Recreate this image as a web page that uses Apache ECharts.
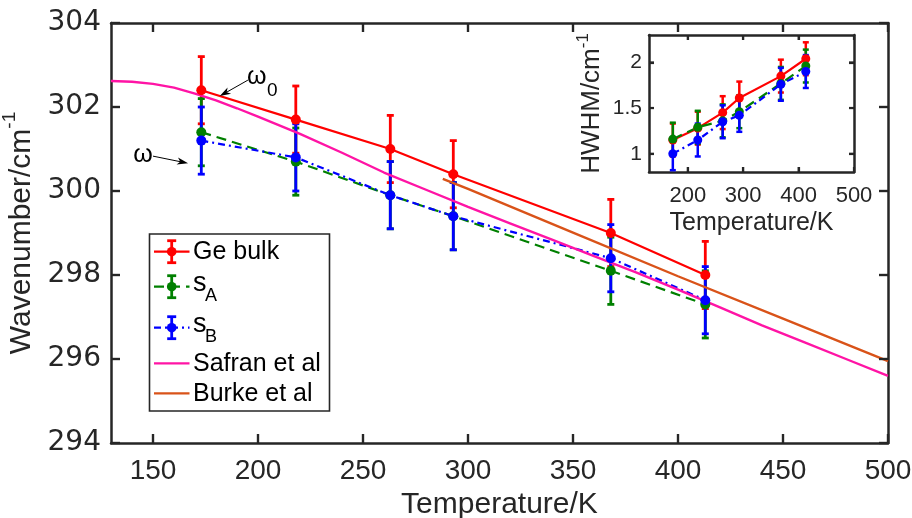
<!DOCTYPE html>
<html><head><meta charset="utf-8">
<script src="https://cdn.jsdelivr.net/npm/echarts@6/dist/echarts.min.js"></script>
<style>html,body{margin:0;padding:0;background:#fff}#c{width:912px;height:518px}</style>
</head><body><div id="c"></div>
<script>
// ---------------- data ----------------
const temps = [173, 218, 263, 293, 368, 413];
const geBulk = [302.4, 301.7, 301.0, 300.4, 299.0, 298.0];
const geBulkErr = [0.8, 0.8, 0.8, 0.8, 0.8, 0.8];
const sA = [301.4, 300.7, 299.9, 299.4, 298.1, 297.3];
const sAErr = [0.8, 0.8, 0.8, 0.8, 0.8, 0.8];
const sB = [301.2, 300.8, 299.9, 299.4, 298.4, 297.4];
const sBErr = [0.8, 0.8, 0.8, 0.8, 0.8, 0.8];
const safranT = [130, 140, 150, 160, 170, 180, 190, 200, 220, 240, 260, 280, 300, 320, 340, 360, 380, 400, 420, 440, 460, 480, 500];
const safranW = [302.62, 302.60, 302.55, 302.46, 302.32, 302.16, 301.97, 301.77, 301.36, 300.91, 300.44, 300.03, 299.62, 299.23, 298.84, 298.45, 298.06, 297.65, 297.23, 296.80, 296.40, 296.00, 295.60];
const burkeT = [288, 300, 350, 400, 450, 500];
const burkeW = [300.29, 300.05, 299.01, 297.97, 296.96, 295.95];
const hwhmGe = [1.15, 1.28, 1.45, 1.61, 1.85, 2.04];
const hwhmGeErr = [0.18, 0.18, 0.18, 0.18, 0.18, 0.18];
const hwhmA = [1.16, 1.29, 1.36, 1.46, 1.77, 1.96];
const hwhmAErr = [0.18, 0.18, 0.18, 0.18, 0.18, 0.18];
const hwhmB = [1.00, 1.15, 1.35, 1.42, 1.76, 1.90];
const hwhmBErr = [0.18, 0.18, 0.18, 0.18, 0.18, 0.18];
const mainXTicks = [150, 200, 250, 300, 350, 400, 450, 500];
const mainYTicks = [294, 296, 298, 300, 302, 304];
const insetXTicks = [200, 300, 400, 500];
const insetYTicks = [1, 1.5, 2];
const legendNames = ['Ge bulk', 's_A', 's_B', 'Safran et al', 'Burke et al'];

// ---------------- styles ----------------
const AX = '#262626';
const FONT = '"Liberation Sans", Arial, Helvetica, sans-serif';
const C_RED = '#ff0000', C_GREEN = '#008000', C_BLUE = '#0000ff', C_MAG = '#ff14a5', C_ORG = '#d95319';
const DASH_A = [10, 6], DASH_B = [7, 4, 2, 4];
const MAIN_X = [130, 500], MAIN_Y = [294, 304], INS_X = [130, 500], INS_Y = [0.8, 2.3];

function errSeries(xi, yi, vals, errs, color, capW, lw) {
  return {
    type: 'custom', xAxisIndex: xi, yAxisIndex: yi, silent: true,
    data: temps.map((t, i) => [t, vals[i] - errs[i], vals[i] + errs[i]]),
    encode: { x: 0, y: [1, 2] },
    renderItem: function (params, api) {
      const x = api.value(0);
      const lo = api.coord([x, api.value(1)]);
      const hi = api.coord([x, api.value(2)]);
      const st = { stroke: color, lineWidth: lw, fill: null };
      return { type: 'group', children: [
        { type: 'line', shape: { x1: lo[0], y1: lo[1], x2: hi[0], y2: hi[1] }, style: st },
        { type: 'line', shape: { x1: lo[0] - capW / 2, y1: lo[1], x2: lo[0] + capW / 2, y2: lo[1] }, style: st },
        { type: 'line', shape: { x1: hi[0] - capW / 2, y1: hi[1], x2: hi[0] + capW / 2, y2: hi[1] }, style: st }
      ]};
    }
  };
}
// axis ticks on all four sides, placed through the axes' own scales
function tickSeries(xi, yi, xt, yt, len, lw) {
  const data = xt.map(v => [v, 0]).concat(yt.map(v => [v, 1]));
  return {
    type: 'custom', xAxisIndex: xi, yAxisIndex: yi, silent: true, z: 20, clip: false,
    data: data, encode: { x: -1, y: -1 },
    renderItem: function (params, api) {
      const cs = params.coordSys;
      const v = api.value(0), kind = api.value(1);
      const st = { stroke: AX, lineWidth: lw };
      if (kind === 0) {
        const x = api.coord([v, (xi === 0 ? MAIN_Y : INS_Y)[0]])[0];
        return { type: 'group', children: [
          { type: 'line', shape: { x1: x, y1: cs.y + cs.height, x2: x, y2: cs.y + cs.height - len }, style: st },
          { type: 'line', shape: { x1: x, y1: cs.y, x2: x, y2: cs.y + len }, style: st }
        ]};
      }
      const y = api.coord([(xi === 0 ? MAIN_X : INS_X)[0], v])[1];
      return { type: 'group', children: [
        { type: 'line', shape: { x1: cs.x, y1: y, x2: cs.x + len, y2: y }, style: st },
        { type: 'line', shape: { x1: cs.x + cs.width, y1: y, x2: cs.x + cs.width - len, y2: y }, style: st }
      ]};
    }
  };
}
function ptSeries(xi, yi, vals, color, dash, size, lw) {
  return {
    type: 'line', xAxisIndex: xi, yAxisIndex: yi, silent: true,
    data: temps.map((t, i) => [t, vals[i]]),
    symbol: 'circle', symbolSize: size, showSymbol: true,
    itemStyle: { color: color, borderWidth: 0 },
    lineStyle: { color: color, width: lw, type: dash }
  };
}
function curveSeries(T, W, color) {
  return {
    type: 'line', xAxisIndex: 0, yAxisIndex: 0, silent: true,
    data: T.map((t, i) => [t, W[i]]), showSymbol: false, symbol: 'none',
    lineStyle: { color: color, width: 2.4 }
  };
}
function axisDef(grid, pos, ext, ticks, tickLen, label, extra) {
  return Object.assign({
    type: 'value', gridIndex: grid, position: pos, min: ext[0], max: ext[1],
    axisLine: { show: true, onZero: false, lineStyle: { color: AX, width: 2.5 } },
    axisTick: { show: true, inside: true, length: tickLen, customValues: ticks, lineStyle: { color: AX, width: 2.2 } },
    axisLabel: label ? Object.assign({ customValues: ticks, color: AX, fontFamily: FONT }, label)
                     : { show: true, customValues: ticks, formatter: function () { return ''; } },
    splitLine: { show: false }
  }, extra || {});
}

const option = {
  animation: false,
  backgroundColor: '#fff',
  grid: [
    { left: 111, top: 23, width: 777, height: 420, outerBoundsMode: 'none', containLabel: false },
    { left: 649, top: 35, width: 205, height: 137, show: true, backgroundColor: '#fff', borderWidth: 0, outerBoundsMode: 'none', containLabel: false }
  ],
  xAxis: [
    axisDef(0, 'bottom', MAIN_X, mainXTicks, 9, { fontSize: 28, margin: 14 }, {
      name: 'Temperature/K', nameLocation: 'middle', nameGap: 47,
      nameTextStyle: { fontSize: 30, color: AX, fontFamily: FONT } }),
    axisDef(0, 'top', MAIN_X, mainXTicks, 9, null),
    axisDef(1, 'bottom', INS_X, insetXTicks, 5, { fontSize: 22, margin: 13 }, {
      name: 'Temperature/K', nameLocation: 'middle', nameGap: 39,
      nameTextStyle: { fontSize: 25, color: AX, fontFamily: FONT } }),
    axisDef(1, 'top', INS_X, insetXTicks, 5, null)
  ],
  yAxis: [
    axisDef(0, 'left', MAIN_Y, mainYTicks, 9, { fontSize: 28, margin: 10, fontFamily: '"DejaVu Sans", sans-serif' }, {
      name: '{a|Wavenumber/cm}{b|-1}', nameLocation: 'middle', nameGap: 70, nameRotate: 90,
      nameTextStyle: { color: AX, fontFamily: FONT, rich: {
        a: { fontSize: 30, color: AX, fontFamily: FONT, lineHeight: 36, verticalAlign: 'bottom' },
        b: { fontSize: 19, color: AX, fontFamily: FONT, verticalAlign: 'top', lineHeight: 36 } } } }),
    axisDef(0, 'right', MAIN_Y, mainYTicks, 9, null),
    axisDef(1, 'left', INS_Y, insetYTicks, 5, { fontSize: 21, margin: 7 }, {
      name: '{a|HWHM/cm}{b|-1}', nameLocation: 'middle', nameGap: 44, nameRotate: 90,
      nameTextStyle: { color: AX, fontFamily: FONT, rich: {
        a: { fontSize: 26, color: AX, fontFamily: FONT, lineHeight: 30, verticalAlign: 'bottom' },
        b: { fontSize: 17, color: AX, fontFamily: FONT, verticalAlign: 'top', lineHeight: 30 } } } }),
    axisDef(1, 'right', INS_Y, insetYTicks, 5, null)
  ],
  series: [
    errSeries(0, 0, geBulk, geBulkErr, C_RED, 7, 2.8),
    ptSeries(0, 0, geBulk, C_RED, 'solid', 10, 2.2),
    errSeries(0, 0, sA, sAErr, C_GREEN, 7, 2.8),
    ptSeries(0, 0, sA, C_GREEN, DASH_A, 10, 2.2),
    errSeries(0, 0, sB, sBErr, C_BLUE, 7, 2.8),
    ptSeries(0, 0, sB, C_BLUE, DASH_B, 10, 2.2),
    curveSeries(safranT, safranW, C_MAG),
    curveSeries(burkeT, burkeW, C_ORG),
    errSeries(2, 2, hwhmGe, hwhmGeErr, C_RED, 6, 2.5),
    ptSeries(2, 2, hwhmGe, C_RED, 'solid', 9, 2.2),
    errSeries(2, 2, hwhmA, hwhmAErr, C_GREEN, 6, 2.5),
    ptSeries(2, 2, hwhmA, C_GREEN, DASH_A, 9, 2.2),
    errSeries(2, 2, hwhmB, hwhmBErr, C_BLUE, 6, 2.5),
    ptSeries(2, 2, hwhmB, C_BLUE, DASH_B, 9, 2.2),
    tickSeries(0, 0, mainXTicks, mainYTicks, 9, 2.2),
    tickSeries(2, 2, insetXTicks, insetYTicks, 5, 2.0)
  ]
};

const chart = echarts.init(document.getElementById('c'), null, { renderer: 'canvas' });
chart.setOption(option);

const gr = [];
// ---------------- annotations & legend (graphic) ----------------
function px(t, w) { return chart.convertToPixel({ xAxisIndex: 0, yAxisIndex: 0 }, [t, w]); }
function arrow(tail, tip) {
  const dx = tip[0] - tail[0], dy = tip[1] - tail[1];
  const L = Math.hypot(dx, dy), ux = dx / L, uy = dy / L, nx = -uy, ny = ux;
  const hl = 11, hw = 3.6, back = 8;
  return [
    { type: 'line', z: 120, shape: { x1: tail[0], y1: tail[1], x2: tip[0] - ux * back, y2: tip[1] - uy * back }, style: { stroke: '#000', lineWidth: 1 } },
    { type: 'polygon', z: 120, shape: { points: [
      [tip[0], tip[1]],
      [tip[0] - ux * hl + nx * hw, tip[1] - uy * hl + ny * hw],
      [tip[0] - ux * back, tip[1] - uy * back],
      [tip[0] - ux * hl - nx * hw, tip[1] - uy * hl - ny * hw]
    ] }, style: { fill: '#000' } }
  ];
}
gr.push(...arrow(px(195.2, 302.64), px(181.8, 302.26)));
gr.push(...arrow(px(150.0, 300.83), px(166.7, 300.66)));
const w0 = px(199.4, 302.71), w0s = px(206.8, 302.39), w1 = px(145.3, 300.85);
gr.push({ type: 'text', z: 120, x: w0[0], y: w0[1], style: { text: 'ω', font: '25px ' + FONT, fill: '#000', align: 'center', verticalAlign: 'middle' } });
gr.push({ type: 'text', z: 120, x: w0s[0], y: w0s[1], style: { text: '0', font: '19px ' + FONT, fill: '#000', align: 'center', verticalAlign: 'middle' } });
gr.push({ type: 'text', z: 120, x: w1[0], y: w1[1], style: { text: 'ω', font: '25px ' + FONT, fill: '#000', align: 'center', verticalAlign: 'middle' } });

// legend box
const LX = 149.5, LY = 234, LW = 180, LH = 177;
gr.push({ type: 'rect', z: 130, shape: { x: LX, y: LY, width: LW, height: LH }, style: { fill: '#fff', stroke: AX, lineWidth: 1.6 } });
const legItems = [
  { y: 251.7, color: C_RED, dash: null, err: true },
  { y: 286.7, color: C_GREEN, dash: DASH_A, err: true },
  { y: 327.7, color: C_BLUE, dash: DASH_B, err: true },
  { y: 363.3, color: C_MAG, dash: null, err: false },
  { y: 393.3, color: C_ORG, dash: null, err: false }
];
legItems.forEach((it, i) => {
  const x1 = 154, x2 = 189.5, xm = 171.7;
  gr.push({ type: 'line', z: 131, shape: { x1: x1, y1: it.y, x2: x2, y2: it.y }, style: { stroke: it.color, lineWidth: 2.2, lineDash: it.dash || null } });
  if (it.err) {
    const st = { stroke: it.color, lineWidth: 2.8 };
    gr.push({ type: 'line', z: 131, shape: { x1: xm, y1: it.y - 11, x2: xm, y2: it.y + 11 }, style: st });
    gr.push({ type: 'line', z: 131, shape: { x1: xm - 4.5, y1: it.y - 11, x2: xm + 4.5, y2: it.y - 11 }, style: st });
    gr.push({ type: 'line', z: 131, shape: { x1: xm - 4.5, y1: it.y + 11, x2: xm + 4.5, y2: it.y + 11 }, style: st });
    gr.push({ type: 'circle', z: 132, shape: { cx: xm, cy: it.y, r: 4.8 }, style: { fill: it.color } });
  }
  const nm = legendNames[i];
  if (nm.indexOf('_') > 0) {
    const parts = nm.split('_');
    gr.push({ type: 'text', z: 132, x: 193, y: it.y - 3, style: { text: parts[0], font: '27px ' + FONT, fill: '#000', align: 'left', verticalAlign: 'middle' } });
    gr.push({ type: 'text', z: 132, x: 205, y: it.y + 9.5, style: { text: parts[1], font: '18px ' + FONT, fill: '#000', align: 'left', verticalAlign: 'middle' } });
  } else {
    gr.push({ type: 'text', z: 132, x: 193, y: it.y + 0.5, style: { text: nm, font: '25px ' + FONT, fill: '#000', align: 'left', verticalAlign: 'middle' } });
  }
});
chart.setOption({ graphic: gr });
</script>
</body></html>
